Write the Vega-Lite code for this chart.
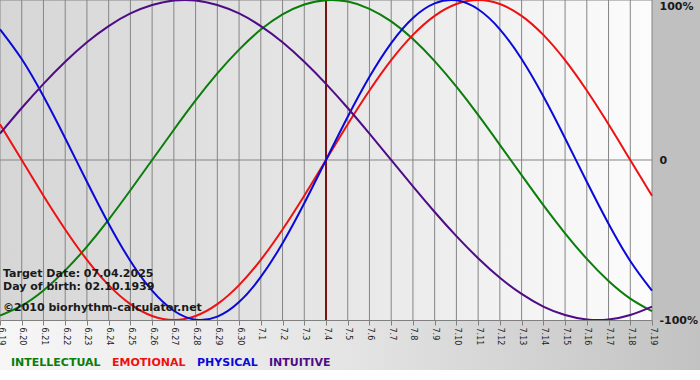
{
  "$schema": "https://vega.github.io/schema/vega-lite/v6.json",
  "width": 652,
  "height": 320,
  "autosize": {"type": "none"},
  "padding": {"left": 0, "top": 0, "right": 48, "bottom": 60},
  "background": "#c0c0c0",
  "config": {"view": {"stroke": null}, "font": "DejaVu Sans"},
  "data": {"values": [
    {"day": "6.19", "INTELLECTUAL": -97.2, "EMOTIONAL": 22.3, "PHYSICAL": 81.7, "INTUITIVE": 16.5},
    {"day": "6.20", "INTELLECTUAL": -91.0, "EMOTIONAL": 0.0, "PHYSICAL": 63.1, "INTUITIVE": 32.5},
    {"day": "6.21", "INTELLECTUAL": -81.5, "EMOTIONAL": -22.3, "PHYSICAL": 39.8, "INTUITIVE": 47.6},
    {"day": "6.22", "INTELLECTUAL": -69.0, "EMOTIONAL": -43.4, "PHYSICAL": 13.6, "INTUITIVE": 61.4},
    {"day": "6.23", "INTELLECTUAL": -54.1, "EMOTIONAL": -62.4, "PHYSICAL": -13.6, "INTUITIVE": 73.6},
    {"day": "6.24", "INTELLECTUAL": -37.2, "EMOTIONAL": -78.2, "PHYSICAL": -39.8, "INTUITIVE": 83.7},
    {"day": "6.25", "INTELLECTUAL": -18.9, "EMOTIONAL": -90.1, "PHYSICAL": -63.1, "INTUITIVE": 91.6},
    {"day": "6.26", "INTELLECTUAL": 0.0, "EMOTIONAL": -97.5, "PHYSICAL": -81.7, "INTUITIVE": 96.9},
    {"day": "6.27", "INTELLECTUAL": 18.9, "EMOTIONAL": -100.0, "PHYSICAL": -94.2, "INTUITIVE": 99.7},
    {"day": "6.28", "INTELLECTUAL": 37.2, "EMOTIONAL": -97.5, "PHYSICAL": -99.8, "INTUITIVE": 99.7},
    {"day": "6.29", "INTELLECTUAL": 54.1, "EMOTIONAL": -90.1, "PHYSICAL": -97.9, "INTUITIVE": 96.9},
    {"day": "6.30", "INTELLECTUAL": 69.0, "EMOTIONAL": -78.2, "PHYSICAL": -88.8, "INTUITIVE": 91.6},
    {"day": "7.1", "INTELLECTUAL": 81.5, "EMOTIONAL": -62.4, "PHYSICAL": -73.1, "INTUITIVE": 83.7},
    {"day": "7.2", "INTELLECTUAL": 91.0, "EMOTIONAL": -43.4, "PHYSICAL": -52.0, "INTUITIVE": 73.6},
    {"day": "7.3", "INTELLECTUAL": 97.2, "EMOTIONAL": -22.3, "PHYSICAL": -27.0, "INTUITIVE": 61.4},
    {"day": "7.4", "INTELLECTUAL": 99.9, "EMOTIONAL": 0.0, "PHYSICAL": 0.0, "INTUITIVE": 47.6},
    {"day": "7.5", "INTELLECTUAL": 99.0, "EMOTIONAL": 22.3, "PHYSICAL": 27.0, "INTUITIVE": 32.5},
    {"day": "7.6", "INTELLECTUAL": 94.5, "EMOTIONAL": 43.4, "PHYSICAL": 52.0, "INTUITIVE": 16.5},
    {"day": "7.7", "INTELLECTUAL": 86.6, "EMOTIONAL": 62.4, "PHYSICAL": 73.1, "INTUITIVE": 0.0},
    {"day": "7.8", "INTELLECTUAL": 75.6, "EMOTIONAL": 78.2, "PHYSICAL": 88.8, "INTUITIVE": -16.5},
    {"day": "7.9", "INTELLECTUAL": 61.8, "EMOTIONAL": 90.1, "PHYSICAL": 97.9, "INTUITIVE": -32.5},
    {"day": "7.10", "INTELLECTUAL": 45.8, "EMOTIONAL": 97.5, "PHYSICAL": 99.8, "INTUITIVE": -47.6},
    {"day": "7.11", "INTELLECTUAL": 28.2, "EMOTIONAL": 100.0, "PHYSICAL": 94.2, "INTUITIVE": -61.4},
    {"day": "7.12", "INTELLECTUAL": 9.5, "EMOTIONAL": 97.5, "PHYSICAL": 81.7, "INTUITIVE": -73.6},
    {"day": "7.13", "INTELLECTUAL": -9.5, "EMOTIONAL": 90.1, "PHYSICAL": 63.1, "INTUITIVE": -83.7},
    {"day": "7.14", "INTELLECTUAL": -28.2, "EMOTIONAL": 78.2, "PHYSICAL": 39.8, "INTUITIVE": -91.6},
    {"day": "7.15", "INTELLECTUAL": -45.8, "EMOTIONAL": 62.4, "PHYSICAL": 13.6, "INTUITIVE": -96.9},
    {"day": "7.16", "INTELLECTUAL": -61.8, "EMOTIONAL": 43.4, "PHYSICAL": -13.6, "INTUITIVE": -99.7},
    {"day": "7.17", "INTELLECTUAL": -75.6, "EMOTIONAL": 22.3, "PHYSICAL": -39.8, "INTUITIVE": -99.7},
    {"day": "7.18", "INTELLECTUAL": -86.6, "EMOTIONAL": 0.0, "PHYSICAL": -63.1, "INTUITIVE": -96.9},
    {"day": "7.19", "INTELLECTUAL": -94.5, "EMOTIONAL": -22.3, "PHYSICAL": -81.7, "INTUITIVE": -91.6}
  ]},
  "layer": [
    {
      "data": {"values": [{}]},
      "mark": {"type": "rect", "fill": {"gradient": "linear", "x1": 0, "y1": 0, "x2": 1, "y2": 0, "stops": [{"offset": 0, "color": "#d6d6d6"}, {"offset": 0.5, "color": "#e6e6e6"}, {"offset": 1, "color": "#fcfcfc"}]}},
      "encoding": {
        "x": {"datum": "7.19", "type": "ordinal", "scale": {"type": "point", "padding": 0, "domain": ["6.19","6.20","6.21","6.22","6.23","6.24","6.25","6.26","6.27","6.28","6.29","6.30","7.1","7.2","7.3","7.4","7.5","7.6","7.7","7.8","7.9","7.10","7.11","7.12","7.13","7.14","7.15","7.16","7.17","7.18","7.19"]},
          "axis": {"title": null, "grid": false, "labelAngle": 90, "labelAlign": "left", "labelBaseline": "middle", "labelFontSize": 8, "labelColor": "#222222", "labelPadding": 2, "labelOverlap": false, "tickColor": "#808080", "tickSize": 5, "domainColor": "#808080", "zindex": 1}},
        "x2": {"datum": "6.19"},
        "y": {"datum": 100, "type": "quantitative", "scale": {"domain": [-100, 100], "nice": false, "zero": false},
          "axis": {"title": null, "orient": "right", "values": [-100, 0, 100], "grid": false, "ticks": false, "domain": false, "labelExpr": "datum.value == 0 ? '0' : datum.value + '%'", "labelFontWeight": "bold", "labelFontSize": 11, "labelColor": "#1a1a1a", "labelPadding": 7, "labelBaseline": {"condition": {"test": "datum.value == 100", "value": "top"}, "value": "middle"}, "zindex": 1}},
        "y2": {"datum": -100}
      }
    },
    {
      "data": {"values": [{}]},
      "mark": {"type": "rect", "clip": false, "x2Offset": 48, "fill": {"gradient": "linear", "x1": 0, "y1": 0, "x2": 1, "y2": 0, "stops": [{"offset": 0, "color": "#f6f6f6"}, {"offset": 0.5, "color": "#e4e4e4"}, {"offset": 1, "color": "#c2c2c2"}]}},
      "encoding": {
        "x": {"datum": "6.19", "type": "ordinal"},
        "x2": {"datum": "7.19"},
        "y": {"datum": -100, "type": "quantitative"},
        "y2": {"datum": -131.25}
      }
    },
    {
      "data": {"values": [{}]},
      "mark": {"type": "rect", "clip": false, "x2Offset": 48, "fill": "#ffffff"},
      "encoding": {
        "x": {"datum": "6.19", "type": "ordinal"},
        "x2": {"datum": "7.19"},
        "y": {"datum": -131.25, "type": "quantitative"},
        "y2": {"datum": -140}
      }
    },
    {
      "mark": {"type": "rule", "color": "#858585", "strokeWidth": 1},
      "encoding": {"x": {"field": "day", "type": "ordinal"}}
    },
    {
      "data": {"values": [{}]},
      "mark": {"type": "rule", "color": "#858585", "strokeWidth": 1},
      "encoding": {"y": {"datum": 0, "type": "quantitative"}}
    },
    {
      "data": {"values": [{}]},
      "mark": {"type": "rule", "color": "#858585", "strokeWidth": 1},
      "encoding": {"y": {"datum": 100, "type": "quantitative"}}
    },
    {
      "data": {"values": [{}]},
      "mark": {"type": "rule", "color": "#7a1414", "strokeWidth": 2},
      "encoding": {"x": {"datum": "7.4", "type": "ordinal"}}
    },
    {
      "transform": [{"fold": ["INTELLECTUAL", "EMOTIONAL", "PHYSICAL", "INTUITIVE"], "as": ["series", "v"]}],
      "mark": {"type": "line", "strokeWidth": 2, "interpolate": "natural"},
      "encoding": {
        "x": {"field": "day", "type": "ordinal"},
        "y": {"field": "v", "type": "quantitative"},
        "color": {"field": "series", "type": "nominal",
          "scale": {"domain": ["INTELLECTUAL", "EMOTIONAL", "PHYSICAL", "INTUITIVE"], "range": ["#0a7d0a", "#ee1111", "#0a0ad8", "#4e0c86"]},
          "legend": {"title": null, "orient": "bottom", "direction": "horizontal", "symbolSize": 0, "symbolOpacity": 0, "symbolStrokeWidth": 0, "labelFontSize": 11, "labelFontWeight": "bold", "labelOffset": 0, "columnPadding": 0, "offset": 12, "zindex": 1,
            "encode": {"labels": {"update": {"fill": {"scale": "color", "field": "value"}}}}}
        }
      }
    },
    {
      "data": {"values": [
        {"t": "Target Date: 07.04.2025", "v": -73.1},
        {"t": "Day of birth: 02.10.1939", "v": -81.3},
        {"t": "©2010 biorhythm-calculator.net", "v": -94.4}
      ]},
      "mark": {"type": "text", "align": "left", "baseline": "alphabetic", "dx": 3, "fontSize": 11, "fontWeight": "bold", "color": "#1a1a1a"},
      "encoding": {
        "x": {"datum": "6.19", "type": "ordinal"},
        "y": {"field": "v", "type": "quantitative"},
        "text": {"field": "t"}
      }
    }
  ]
}
